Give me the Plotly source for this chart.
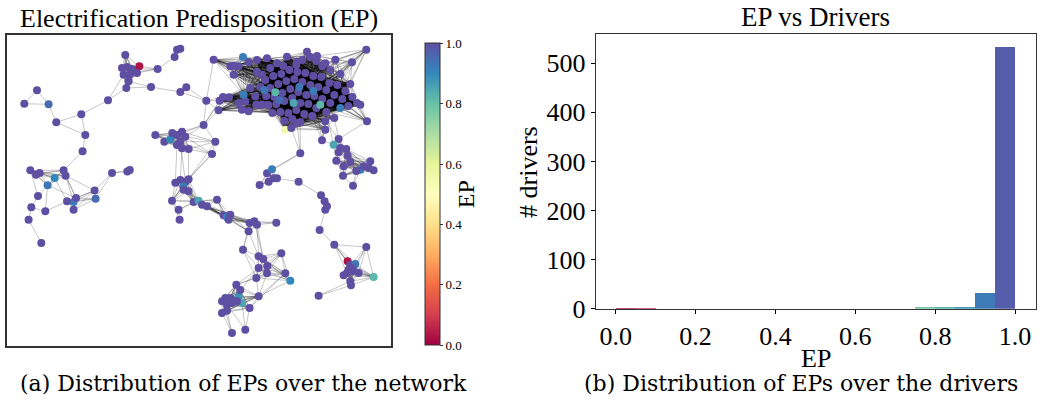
import plotly.graph_objects as go

# ---------------- histogram data (EP vs Drivers) ----------------
BIN_LEFT = [0.00, 0.05, 0.10, 0.15, 0.20, 0.25, 0.30, 0.35, 0.40, 0.45,
            0.50, 0.55, 0.60, 0.65, 0.70, 0.75, 0.80, 0.85, 0.90, 0.95]
COUNTS = [1, 1, 0, 0, 0, 0, 0, 0, 0, 0,
          0, 0, 0, 0, 0, 2, 4, 4, 32, 533]
BIN_WIDTH = 0.05
HIST_XTICKS = [0.0, 0.2, 0.4, 0.6, 0.8, 1.0]
HIST_XTICKTEXT = ["0.0", "0.2", "0.4", "0.6", "0.8", "1.0"]
HIST_YTICKS = [0, 100, 200, 300, 400, 500]
CB_TICKS = [0.0, 0.2, 0.4, 0.6, 0.8, 1.0]
CB_TICKTEXT = ["0.0", "0.2", "0.4", "0.6", "0.8", "1.0"]

# ---------------- network layout: node positions (layout units) and EP ----------------
# B: left chain
B_x = [36.7, 24, 48.3, 56, 81, 85, 82.3, 107.7]
B_y = [90.3, 103.7, 104.3, 122.3, 114.3, 135, 151.3, 100.3]
B_ep = [1, 1, 0.95, 1, 1, 1, 1, 1]

# A: lower-left cluster
A_x = [30, 35.7, 39.3, 54.3, 63.3, 65.3, 47.3, 94.3, 95.3, 73.3, 75.7,
       66.7, 73.3, 37.7, 31, 45, 28.3, 41, 111.7, 127, 129.5]
A_y = [170.3, 174.7, 173, 178, 170.3, 175.7, 185.3, 190.5, 198.7, 202, 198,
       201.3, 209.7, 196, 207.3, 211.3, 219.7, 243, 173, 171.5, 170]
A_ep = [1, 1, 1, 0.9, 1, 1, 0.93, 1, 0.95, 0.92, 1,
        1, 1, 1, 1, 1, 1, 1, 1, 1, 1]

# C: top-left cluster
C_x = [125, 121.7, 126.7, 131.7, 123.3, 129, 133.3, 128.3, 126, 139, 136.7,
       157.3, 150.7, 174.3, 176.7, 180, 180, 186, 206]
C_y = [55, 68, 67, 69, 74.7, 74.7, 72.3, 81.3, 88, 66.3, 73,
       69, 87, 57, 49.7, 48.7, 92, 87.3, 100.7]
C_ep = [1, 1, 1, 1, 1, 1, 1, 1, 1, 0.03, 1,
        1, 1, 1, 1, 1, 1, 1, 1]

# K: dense core
K_x = [213.3, 230, 233.3, 238.3, 242.7, 248.3, 233.3, 256.7, 261.7,
       219.3, 222.7, 228.7, 218.3, 238.3, 245, 248.3, 241.7, 256, 261.7, 243.3, 250, 255,
       306.7, 310, 302, 316, 296, 322, 335, 351.7, 366, 330, 340,
       265, 273, 281, 289, 297, 305, 313, 321, 329, 337, 345,
       270, 278, 286, 294, 302, 310, 318, 326, 334, 342,
       266, 274, 282, 290, 298, 306, 314, 322, 330,
       268, 276, 284, 292, 300, 308, 316, 326,
       272, 280, 288, 296, 304, 312,
       284, 292, 300,
       260, 350, 352,
       275, 293.3, 320, 340, 285, 264, 299, 313, 279,
       356.7, 360, 366.7, 348, 296.7, 325, 325, 334, 291,
       256.7, 266.7, 276.7, 286.7, 296.7, 316.7, 325, 283, 270]
K_y = [59.7, 66.3, 65.7, 66.3, 57, 62.3, 74.7, 72.3, 74.7,
       100.7, 97, 97.3, 110.3, 103, 101.3, 111.3, 109.7, 104.7, 104.7, 94.7, 88, 96.3,
       51.7, 57, 60, 61, 65, 66, 59.7, 62.3, 49.7, 70, 74,
       80, 76, 74, 70, 72, 73, 76, 77, 83, 85, 91,
       88, 84, 81, 79, 82, 85, 87, 90, 95, 99,
       96, 97, 93, 89, 92, 95, 96, 99, 103,
       105, 104, 101, 98, 103, 104, 108, 112,
       113, 112, 113, 110, 114, 116,
       121, 119, 122,
       87, 84, 97,
       92.3, 103, 104.7, 108, 129.7, 90, 87, 91, 100,
       103, 104.7, 121.3, 106, 123, 121.3, 129.7, 118, 128,
       60, 58.3, 63.3, 56.7, 61.7, 56, 63.3, 66, 68]
K_ep = [1, 1, 1, 1, 0.92, 1, 1, 1, 1,
        1, 1, 1, 1, 1, 1, 1, 1, 1, 1, 0.92, 1, 1,
        1, 1, 1, 1, 1, 1, 1, 1, 1, 1, 1,
        1, 1, 1, 1, 1, 1, 1, 1, 1, 1, 1,
        1, 1, 1, 1, 1, 1, 1, 1, 1, 1,
        1, 1, 1, 1, 1, 1, 1, 1, 1,
        1, 1, 1, 1, 1, 1, 1, 1,
        1, 1, 1, 1, 1, 1,
        1, 1, 1,
        1, 1, 1,
        0.82, 0.85, 0.82, 0.92, 0.55, 0.93, 0.93, 0.92, 0.95,
        1, 1, 1, 1, 1, 1, 1, 1, 1,
        1, 1, 1, 1, 1, 1, 1, 1, 1]

# D: middle cluster
D_x = [155, 164, 170, 176.7, 181.7, 185, 180, 176.7, 181.7, 188.3, 215, 211.7, 203.3, 172]
D_y = [135, 141.7, 139.3, 135, 131.7, 136.7, 141.7, 145, 148.3, 149, 141.7, 154, 125, 133]
D_ep = [1, 1, 0.9, 1, 1, 1, 1, 1, 1, 1, 1, 1, 1, 1]

# E: middle-lower band
E_x = [175, 180, 185, 188.3, 183, 183.3, 188.3, 171.7, 178.3, 179.3, 193.3, 198.3,
       201.7, 206.7, 216.7, 223.3, 226.7, 230, 228.3, 249.3, 254, 256.7, 248.3, 276]
E_y = [182.7, 180, 181.7, 179.3, 186.5, 189.7, 191.3, 200.7, 209.7, 219.7, 202, 200.7,
       204.7, 206.3, 199.7, 215.3, 217.3, 214.7, 219.7, 223, 221.3, 224.7, 231.3, 222.7]
E_ep = [1, 1, 1, 1, 0.92, 1, 1, 1, 1, 1, 1, 0.85,
        1, 1, 1, 1, 0.9, 1, 1, 1, 1, 1, 1, 1]

# G: lower star
G_x = [242.7, 258.3, 263, 258.3, 267, 266.7, 256, 281, 285, 290]
G_y = [249.7, 256.3, 259, 268, 266, 273.3, 278, 253.3, 273.3, 280.7]
G_ep = [1, 1, 1, 1, 1, 1, 1, 1, 1, 0.9]

# H: bottom cluster
H_x = [236, 238.3, 241.7, 230, 225, 221.7, 226.7, 231.7, 236.7, 221.7, 226.7, 249.3, 258.3, 231.7, 245, 240]
H_y = [284.7, 296.3, 303, 298, 298, 301.3, 304.7, 303, 301.3, 313, 310.7, 308, 296.3, 333, 329.7, 290]
H_ep = [1, 0.88, 0.85, 1, 1, 1, 1, 1, 1, 1, 1, 1, 1, 1, 1, 1]

# M: middle chain
M_x = [266.7, 271.7, 273.3, 268.3, 259.3, 276.7, 298.3, 300]
M_y = [173.3, 169.3, 178.3, 181.7, 185, 178.3, 181.7, 153.3]
M_ep = [1, 0.92, 1, 1, 1, 1, 1, 1]

# R: right arm of the core
R_x = [321.7, 338.3, 333.3, 340, 338.3, 346, 347.3, 336, 343.3, 342.7, 352.7, 360, 370, 373.3, 368.3, 363.3, 350, 356]
R_y = [140.3, 139, 144.7, 148, 152.3, 149, 155.7, 160.7, 166.3, 175.7, 185.7, 169.7, 161.3, 170.3, 168, 166.3, 162, 171]
R_ep = [1, 1, 0.85, 1, 1, 1, 1, 1, 1, 1, 1, 0.92, 1, 1, 1, 1, 1, 1]

# S: right-lower cluster
S_x = [320.7, 324.3, 326.7, 325, 319.3, 334, 366, 347.3, 350, 355, 351.7, 348.3, 346.7, 343.3, 353.3, 358.3, 350, 350.7, 373.3, 318.3]
S_y = [195.3, 201.3, 206.3, 209.7, 230, 244.7, 247, 261.3, 264.7, 264, 268, 269.7, 273, 275.3, 271.3, 273, 281.3, 285.3, 277, 295.7]
S_ep = [1, 1, 1, 1, 1, 1, 1, 0.03, 1, 0.93, 1, 1, 1, 1, 1, 1, 1, 1, 0.82, 1]

# ---------------- edges ----------------
EDGES = [
    ("B0", "B1"), ("B0", "B2"), ("B1", "B2"), ("B2", "B3"), ("B3", "B4"), ("B3", "B5"), ("B4", "B5"),
    ("B4", "B7"), ("B5", "B6"), ("B6", "A4"), ("B7", "C8"), ("B7", "C4"),
    ("A0", "A13"), ("A6", "A13"), ("A13", "A14"), ("A14", "A15"), ("A14", "A16"), ("A15", "A11"),
    ("A15", "A6"), ("A16", "A17"), ("A3", "A11"), ("A5", "A10"), ("A5", "A9"), ("A6", "A10"),
    ("A7", "A18"), ("A8", "A18"), ("A18", "A19"), ("A19", "A20"), ("A18", "A20"), ("A4", "A10"), ("A5", "A7"),
    ("C11", "C9"), ("C11", "C6"), ("C11", "C10"), ("C11", "C3"), ("C11", "C13"), ("C12", "C8"), ("C12", "C7"),
    ("C12", "C16"), ("C13", "C14"), ("C13", "C15"), ("C14", "C15"), ("C16", "C17"), ("C17", "C18"),
    ("C16", "C18"), ("C18", "K9"), ("C18", "K10"), ("C18", "K12"), ("C18", "K0"),
    ("D10", "D5"), ("D10", "D9"), ("D10", "D4"), ("D10", "D6"), ("D11", "D9"), ("D11", "D5"), ("D11", "D6"),
    ("D11", "D10"), ("D12", "D4"), ("D12", "D5"), ("D12", "D10"), ("D12", "D3"), ("D12", "C18"),
    ("D12", "K9"), ("D12", "K12"), ("D12", "K10"), ("D7", "E0"), ("D8", "E1"), ("D9", "E3"), ("D11", "E3"),
    ("D6", "E2"), ("D11", "E2"), ("D10", "E3"),
    ("E7", "E8"), ("E8", "E9"), ("E7", "E9"), ("E8", "E11"), ("E8", "E10"), ("E20", "E23"), ("E21", "E23"),
    ("E19", "E23"), ("E22", "G0"), ("E19", "G0"), ("E22", "G1"), ("E21", "G1"), ("E21", "G2"), ("E20", "G2"),
    ("G0", "G1"), ("G0", "G3"), ("G0", "G6"),
    ("H9", "H13"), ("H10", "H13"), ("H5", "H13"), ("H6", "H14"), ("H11", "H14"), ("H2", "H14"),
    ("G6", "H0"), ("G5", "H12"), ("G3", "H0"), ("G6", "H12"), ("G8", "H12"), ("G5", "H0"), ("G3", "H15"),
    ("G9", "H12"), ("G8", "H11"),
    ("M1", "M7"), ("M0", "M7"), ("M5", "M6"), ("M6", "S0"), ("M7", "K96"), ("M7", "K79"), ("M7", "K100"),
    ("R0", "K97"), ("R0", "K98"), ("R0", "K76"), ("R0", "K70"), ("R0", "K69"), ("R0", "R2"), ("R1", "K97"),
    ("R1", "K99"), ("R1", "K94"), ("R2", "K70"), ("R9", "R10"), ("R10", "R11"), ("R10", "R17"),
    ("S0", "S1"), ("S1", "S2"), ("S2", "S3"), ("S1", "S3"), ("S3", "S4"), ("S4", "S5"), ("S5", "S6"),
    ("S5", "S7"), ("S5", "S8"), ("S5", "S9"), ("S5", "S10"), ("S5", "S12"), ("S6", "S9"), ("S6", "S8"),
    ("S6", "S14"), ("S6", "S15"), ("S6", "S18"), ("S17", "S19"), ("S16", "S19"),
]

CLIQUES = [
    ["A0", "A1", "A2", "A3", "A4", "A5", "A6"],
    ["A7", "A8", "A9", "A10", "A11", "A12"],
    ["C0", "C1", "C2", "C3", "C4", "C5", "C6", "C7", "C8", "C9", "C10"],
    ["K" + str(i) for i in range(33, 92)] + ["K92", "K93", "K95", "K101", "K102", "K103", "K104",
                                            "K105", "K107", "K108", "K109"],
    ["K" + str(i) for i in range(9, 22)] + ["K33", "K44", "K45", "K54", "K55", "K56", "K63", "K64", "K65",
                                           "K71", "K72", "K80", "K83", "K88", "K91"],
    ["K" + str(i) for i in range(0, 9)] + ["K33", "K34", "K35", "K36", "K45", "K46", "K80", "K44",
                                          "K19", "K20", "K83", "K88", "K101", "K102", "K109"],
    ["K" + str(i) for i in range(22, 28)] + ["K36", "K37", "K38", "K39", "K40", "K31", "K46", "K47",
                                            "K48", "K49", "K50", "K89", "K103", "K104", "K105",
                                            "K106", "K107", "K108"],
    ["K28", "K29", "K30", "K31", "K32", "K41", "K42", "K43", "K81", "K27", "K50", "K51", "K90", "K106", "K107"],
    ["K92", "K93", "K94", "K95", "K86", "K53", "K82", "K62", "K70", "K43", "K51", "K52", "K61", "K85", "K90"],
    ["K96", "K97", "K98", "K99", "K100", "K87", "K77", "K78", "K79", "K73", "K74", "K75", "K76", "K70",
     "K69", "K63", "K64", "K65", "K66", "K67", "K68", "K84"],
    ["D0", "D1", "D2", "D3", "D4", "D5", "D6", "D7", "D8", "D9", "D13"],
    ["E0", "E1", "E2", "E3", "E4", "E5", "E6", "E7", "E10", "E11"],
    ["E10", "E11", "E12", "E13", "E14", "E15", "E16", "E17", "E18"],
    ["E15", "E16", "E17", "E18", "E19", "E20", "E21", "E22"],
    ["G1", "G2", "G3", "G4", "G5", "G6", "G7", "G8", "G9"],
    ["H0", "H1", "H2", "H3", "H4", "H5", "H6", "H7", "H8", "H9", "H10", "H11", "H12", "H15"],
    ["M0", "M1", "M2", "M3", "M4", "M5"],
    ["R1", "R2", "R3", "R4", "R5", "R6", "R7", "R16"],
    ["R5", "R6", "R7", "R8", "R9", "R11", "R12", "R13", "R14", "R15", "R16", "R17"],
    ["S7", "S8", "S9", "S10", "S11", "S12", "S13", "S14", "S15", "S16", "S17", "S18"],
]

SPECTRAL = [[0.0, "rgb(158,1,66)"], [0.1, "rgb(213,62,79)"], [0.2, "rgb(244,109,67)"],
            [0.3, "rgb(253,174,97)"], [0.4, "rgb(254,224,139)"], [0.5, "rgb(255,255,191)"],
            [0.6, "rgb(230,245,152)"], [0.7, "rgb(171,221,164)"], [0.8, "rgb(102,194,165)"],
            [0.9, "rgb(50,136,189)"], [1.0, "rgb(94,79,162)"]]

FONT = "Liberation Serif"
CAP_FONT = "DejaVu Serif"
W, H = 1039, 407
HV = 392  # visible drawing height used for vertical placement


def fy(px):
    """paper fraction for a vertical pixel position measured from the top"""
    return 1 - px / HV


groups = [("B", B_x, B_y, B_ep), ("A", A_x, A_y, A_ep), ("C", C_x, C_y, C_ep), ("K", K_x, K_y, K_ep),
          ("D", D_x, D_y, D_ep), ("E", E_x, E_y, E_ep), ("G", G_x, G_y, G_ep), ("H", H_x, H_y, H_ep),
          ("M", M_x, M_y, M_ep), ("R", R_x, R_y, R_ep), ("S", S_x, S_y, S_ep)]

pos = {}
node_x, node_y, node_ep = [], [], []
for pre, xs, ys, eps in groups:
    assert len(xs) == len(ys) == len(eps), pre
    for i, (x, y, e) in enumerate(zip(xs, ys, eps)):
        pos[pre + str(i)] = (x, y)
        node_x.append(x)
        node_y.append(y)
        node_ep.append(e)

edge_set = set()


def add_edge(a, b):
    if a != b:
        edge_set.add(tuple(sorted((a, b))))


for a, b in EDGES:
    add_edge(a, b)
for cl in CLIQUES:
    for i in range(len(cl)):
        for j in range(i + 1, len(cl)):
            add_edge(cl[i], cl[j])
edge_list = sorted(edge_set)

fig = go.Figure()

N_LAYERS = 24
for k in range(N_LAYERS):
    ex, ey = [], []
    for a, b in edge_list[k::N_LAYERS]:
        ex += [pos[a][0], pos[b][0], None]
        ey += [pos[a][1], pos[b][1], None]
    fig.add_trace(go.Scatter(x=ex, y=ey, mode="lines", xaxis="x", yaxis="y",
                             line=dict(color="rgba(0,0,0,0.25)", width=0.9),
                             hoverinfo="skip", showlegend=False))

fig.add_trace(go.Scatter(
    x=node_x, y=node_y, mode="markers", xaxis="x", yaxis="y", showlegend=False,
    marker=dict(size=8, color=node_ep, colorscale=SPECTRAL, cmin=0, cmax=1, line=dict(width=0),
                showscale=True,
                colorbar=dict(x=414.7 / W, xanchor="left", y=fy(194.2), yanchor="middle",
                              len=321.7 / HV, lenmode="fraction", thickness=15, thicknessmode="pixels",
                              outlinewidth=1, outlinecolor="#333",
                              tickvals=CB_TICKS, ticktext=CB_TICKTEXT, ticks="outside", ticklen=3,
                              tickcolor="#333", tickfont=dict(family=FONT, size=13, color="black"),
                              title=dict(text="EP", side="right", font=dict(family=FONT, size=24, color="black"))))))

bin_centers = [b + BIN_WIDTH / 2 for b in BIN_LEFT]
fig.add_trace(go.Bar(x=bin_centers, y=COUNTS, width=BIN_WIDTH, xaxis="x2", yaxis="y2", showlegend=False,
                     marker=dict(color=bin_centers, colorscale=SPECTRAL, cmin=0, cmax=1, line=dict(width=0))))

fig.update_layout(
    width=W, height=H, margin=dict(l=0, r=0, t=0, b=0),
    paper_bgcolor="white", plot_bgcolor="white", hovermode=False, bargap=0,
    font=dict(family=FONT, color="black"),
    xaxis=dict(domain=[7 / W, 391 / W], range=[6.7, 390.7], showgrid=False, zeroline=False,
               showticklabels=False, ticks="", showline=True, mirror=True, linecolor="#333", linewidth=1.5),
    yaxis=dict(domain=[fy(346), fy(35)], range=[346, 35], showgrid=False, zeroline=False,
               showticklabels=False, ticks="", showline=True, mirror=True, linecolor="#333", linewidth=1.5),
    xaxis2=dict(domain=[595.7 / W, 1035.7 / W], range=[-0.05, 1.0518], anchor="y2",
                tickvals=HIST_XTICKS, ticktext=HIST_XTICKTEXT, ticks="outside", ticklen=4,
                tickcolor="black", showline=True, mirror=True, linecolor="#333", linewidth=1,
                showgrid=False, zeroline=False, tickfont=dict(family=FONT, size=26, color="black")),
    yaxis2=dict(domain=[fy(308.7), fy(34)], range=[0, 559.7], anchor="x2",
                tickvals=HIST_YTICKS, ticks="outside", ticklen=4, tickcolor="black",
                showline=True, mirror=True, linecolor="#333", linewidth=1, showgrid=False, zeroline=False,
                tickfont=dict(family=FONT, size=26, color="black")),
)

ann = [
    dict(text="Electrification Predisposition (EP)", x=199 / W, y=fy(18), size=26, angle=0, fam=FONT),
    dict(text="EP vs Drivers", x=815.7 / W, y=fy(17), size=27, angle=0, fam=FONT),
    dict(text="# drivers", x=528.3 / W, y=fy(171.7), size=26, angle=-90, fam=FONT),
    dict(text="EP", x=815.7 / W, y=fy(358), size=26, angle=0, fam=FONT),
    dict(text="(a) Distribution of EPs over the network", x=243 / W, y=fy(383), size=22, angle=0, fam=CAP_FONT),
    dict(text="(b) Distribution of EPs over the drivers", x=801 / W, y=fy(383), size=22, angle=0, fam=CAP_FONT),
]
for a in ann:
    fig.add_annotation(text=a["text"], x=a["x"], y=a["y"], xref="paper", yref="paper",
                       xanchor="center", yanchor="middle", showarrow=False, textangle=a["angle"],
                       font=dict(family=a["fam"], size=a["size"], color="black"))

fig.write_html("out.html")
